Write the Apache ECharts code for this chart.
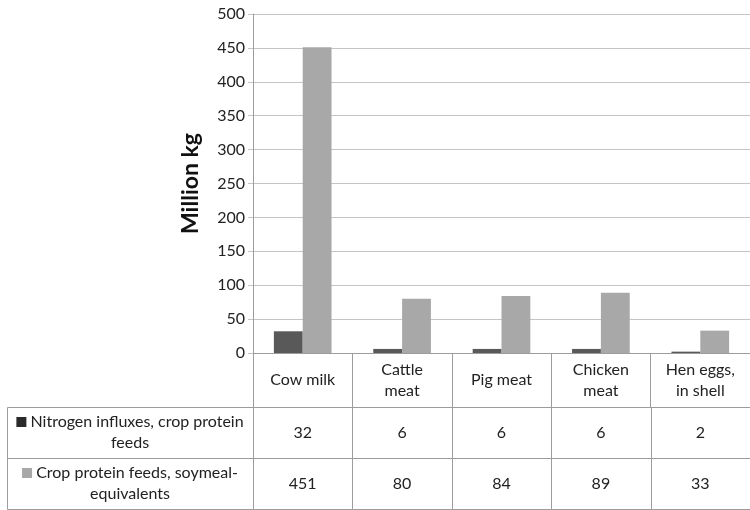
<!DOCTYPE html>
<html>
<head>
<meta charset="utf-8">
<script src="https://cdn.jsdelivr.net/npm/echarts@6/dist/echarts.min.js"></script>
<style>
  html, body { margin: 0; padding: 0; background: #ffffff; }
  #chart { width: 750px; height: 510px; }
</style>
</head>
<body>
<div id="chart"></div>
<script>
// Product categories (line breaks as shown in the table header)
const categories = ['Cow milk', 'Cattle\nmeat', 'Pig meat', 'Chicken\nmeat', 'Hen eggs,\nin shell'];
// Series names (legend column of the data table)
const seriesNames = ['Nitrogen influxes, crop protein\nfeeds', 'Crop protein feeds, soymeal-\nequivalents'];
// Values, million kg
const nitrogenInflux = [32, 6, 6, 6, 2];
const soymealEquivalents = [451, 80, 84, 89, 33];
// Value axis
const yMin = 0, yMax = 500, yStep = 50;
const yTitle = 'Million kg';

const FONT = 'Lato';
const TEXT = '#222222';
const BORDER = '#9c9c9c';
const GRID = '#c4c4c4';
const barColors = ['#595959', '#a8a8a8'];
const keyColors = ['#2a2a2a', '#a8a8a8'];
const seriesValues = [nitrogenInflux, soymealEquivalents];

// table cells: [categoryIndex, rowIndex]
const valueCells = [];
const valueTexts = [];
seriesValues.forEach((vals, r) => vals.forEach((v, i) => { valueCells.push([i, r]); valueTexts.push(String(v)); }));
const legendCells = seriesNames.map((n, r) => [0, r]);

function px(v) { return Math.round(v) + 0.5; }

function cellBox(api) {
  const c = api.coord([api.value(0), api.value(1)]);
  const s = api.size([1, 1]);
  const x0 = px(c[0] - s[0] / 2), x1 = px(c[0] + s[0] / 2);
  const y0 = px(c[1] - s[1] / 2), y1 = px(c[1] + s[1] / 2);
  return { c, rect: { type: 'rect', shape: { x: x0, y: y0, width: x1 - x0, height: y1 - y0 },
    style: { fill: 'none', stroke: BORDER, lineWidth: 1 }, silent: true } };
}

const chart = echarts.init(document.getElementById('chart'), null, { renderer: 'canvas' });

chart.setOption({
  backgroundColor: '#ffffff',
  animation: false,
  textStyle: { fontFamily: FONT },
  grid: [
    { left: 253, top: 14, width: 507, height: 339 },   // bars
    { left: 253, top: 407, width: 507, height: 102 },  // value rows of the table
    { left: 7, top: 407, width: 246, height: 102 }     // legend column of the table
  ],
  xAxis: [
    { type: 'category', gridIndex: 0, data: categories,
      axisLine: { show: true, lineStyle: { color: BORDER } },
      axisTick: { show: false }, axisLabel: { show: false }, splitLine: { show: false } },
    { type: 'category', gridIndex: 1, data: categories, position: 'top',
      axisLine: { show: true, lineStyle: { color: BORDER } },
      axisTick: { show: true, length: 54, lineStyle: { color: BORDER } },
      axisLabel: { show: true, interval: 0, margin: 27, verticalAlign: 'middle',
        fontFamily: FONT, fontSize: 16, color: TEXT, lineHeight: 21, align: 'center' },
      splitLine: { show: false } },
    { type: 'category', gridIndex: 2, data: ['key'],
      axisLine: { show: false }, axisTick: { show: false }, axisLabel: { show: false } }
  ],
  yAxis: [
    { type: 'value', gridIndex: 0, min: yMin, max: yMax, interval: yStep,
      name: yTitle, nameLocation: 'middle', nameGap: 51, nameRotate: 90,
      nameTextStyle: { fontFamily: FONT, fontSize: 23, fontWeight: 'bold', color: '#111111' },
      axisLine: { show: true, lineStyle: { color: BORDER } },
      axisTick: { show: true, length: 5, lineStyle: { color: GRID } },
      axisLabel: { fontFamily: FONT, fontSize: 16, color: TEXT, margin: 8 },
      splitLine: { show: true, lineStyle: { color: GRID, width: 1 } } },
    { type: 'category', gridIndex: 1, data: ['n', 'c'], inverse: true,
      axisLine: { show: false }, axisTick: { show: false }, axisLabel: { show: false } },
    { type: 'category', gridIndex: 2, data: ['n', 'c'], inverse: true,
      axisLine: { show: false }, axisTick: { show: false }, axisLabel: { show: false } }
  ],
  series: [
    { type: 'bar', name: 'Nitrogen influxes, crop protein feeds', xAxisIndex: 0, yAxisIndex: 0,
      data: nitrogenInflux, barGap: '0%', barCategoryGap: '42%',
      itemStyle: { color: barColors[0] } },
    { type: 'bar', name: 'Crop protein feeds, soymeal-equivalents', xAxisIndex: 0, yAxisIndex: 0,
      data: soymealEquivalents, barGap: '0%', barCategoryGap: '42%',
      itemStyle: { color: barColors[1] } },
    { type: 'custom', xAxisIndex: 1, yAxisIndex: 1, data: valueCells, silent: true,
      renderItem: function (params, api) {
        const b = cellBox(api);
        return { type: 'group', children: [b.rect, {
          type: 'text', x: b.c[0], y: b.c[1], silent: true,
          style: { text: valueTexts[params.dataIndex], align: 'center', verticalAlign: 'middle',
            fontFamily: FONT, fontSize: 16, fill: TEXT } }] };
      } },
    { type: 'custom', xAxisIndex: 2, yAxisIndex: 2, data: legendCells, silent: true,
      renderItem: function (params, api) {
        const b = cellBox(api);
        const r = params.dataIndex;
        const lines = seriesNames[r].split('\n');
        return { type: 'group', children: [b.rect, {
          type: 'text', x: b.c[0], y: b.c[1], silent: true,
          style: { text: '{k|} ' + lines[0] + '\n' + lines[1], align: 'center', verticalAlign: 'middle',
            fontFamily: FONT, fontSize: 16, fill: TEXT, lineHeight: 21,
            rich: { k: { width: 10, height: 10, backgroundColor: keyColors[r] } } } }] };
      } }
  ]
});
</script>
</body>
</html>
